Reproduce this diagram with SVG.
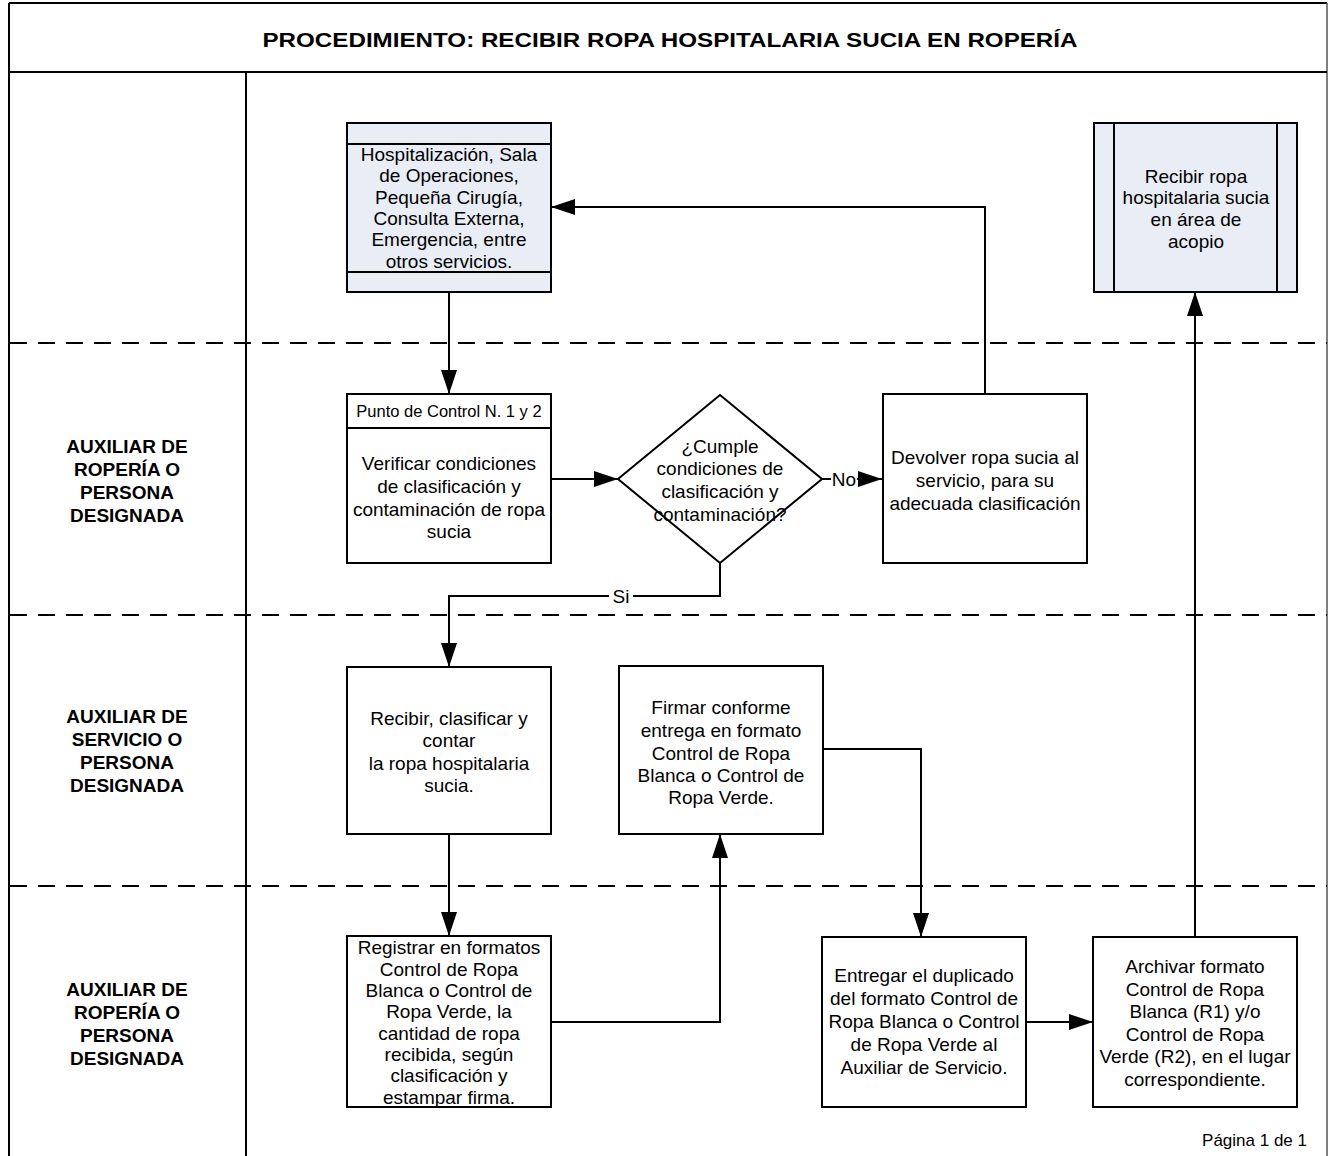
<svg xmlns="http://www.w3.org/2000/svg" width="1330" height="1156" viewBox="0 0 1330 1156">
  <style>
    .frame { fill: none; stroke: #000; stroke-width: 2; }
    .lane { fill: none; stroke: #000; stroke-width: 2; stroke-dasharray: 17 11; }
    .box { fill: #fff; stroke: #000; stroke-width: 2; }
    .tinted { fill: #e9edf5; stroke: #000; stroke-width: 2; }
    .edge { fill: none; stroke: #000; stroke-width: 2; }
    .t { font-family: "Liberation Sans", Arial, sans-serif; font-size: 19px; fill: #000; text-anchor: middle; }
    .small { font-size: 16.5px; }
    .role { font-family: "Liberation Sans", Arial, sans-serif; font-size: 19px; font-weight: bold; fill: #000; text-anchor: middle; }
    .title { font-family: "Liberation Sans", Arial, sans-serif; font-size: 21px; font-weight: bold; fill: #000; text-anchor: middle; }
    .lbl { font-family: "Liberation Sans", Arial, sans-serif; font-size: 19px; fill: #000; text-anchor: middle; }
  </style>
  <defs>
    <marker id="arrow" viewBox="0 0 24 16" refX="24" refY="8" markerWidth="24" markerHeight="16" markerUnits="userSpaceOnUse" orient="auto">
      <path d="M0,0 L24,8 L0,16 Z" fill="#000"/>
    </marker>
  </defs>

  <rect width="1330" height="1156" fill="#fff"/>

  <!-- page frame, title band and lane grid -->
  <g id="frame">
    <line class="frame" x1="9" y1="3" x2="1327" y2="3"/>
    <line class="frame" x1="9" y1="3" x2="9" y2="1156"/>
    <line class="frame" x1="1327" y1="3" x2="1327" y2="1156" style="stroke:#555;stroke-width:1.5"/>
    <line class="frame" x1="9" y1="72" x2="1327" y2="72"/>
    <line class="frame" x1="246" y1="72" x2="246" y2="1156"/>
    <line class="lane" x1="10" y1="343" x2="1327" y2="343"/>
    <line class="lane" x1="10" y1="615" x2="1327" y2="615"/>
    <line class="lane" x1="10" y1="886" x2="1327" y2="886"/>
    <text class="title" x="670" y="47" textLength="815" lengthAdjust="spacingAndGlyphs">PROCEDIMIENTO: RECIBIR ROPA HOSPITALARIA SUCIA EN ROPERÍA</text>
    <text class="lbl" x="1307" y="1146" style="text-anchor:end;font-size:17px">Página 1 de 1</text>
  </g>

  <!-- role labels -->
  <g id="role-roperia-1">
    <text class="role" x="127" y="453">AUXILIAR DE</text>
    <text class="role" x="127" y="476">ROPERÍA O</text>
    <text class="role" x="127" y="499">PERSONA</text>
    <text class="role" x="127" y="522">DESIGNADA</text>
  </g>
  <g id="role-servicio">
    <text class="role" x="127" y="723">AUXILIAR DE</text>
    <text class="role" x="127" y="746">SERVICIO O</text>
    <text class="role" x="127" y="769">PERSONA</text>
    <text class="role" x="127" y="792">DESIGNADA</text>
  </g>
  <g id="role-roperia-2">
    <text class="role" x="127" y="996">AUXILIAR DE</text>
    <text class="role" x="127" y="1019">ROPERÍA O</text>
    <text class="role" x="127" y="1042">PERSONA</text>
    <text class="role" x="127" y="1065">DESIGNADA</text>
  </g>

  <!-- connectors -->
  <g id="connectors">
    <line class="edge" x1="449" y1="292" x2="449" y2="394" marker-end="url(#arrow)"/>
    <line class="edge" x1="551" y1="479" x2="618" y2="479" marker-end="url(#arrow)"/>
    <line class="edge" x1="822" y1="479" x2="882" y2="479" marker-end="url(#arrow)"/>
    <polyline class="edge" points="985,394 985,207 551,207" marker-end="url(#arrow)"/>
    <polyline class="edge" points="720,563 720,596 449,596 449,667" marker-end="url(#arrow)"/>
    <line class="edge" x1="449" y1="834" x2="449" y2="936" marker-end="url(#arrow)"/>
    <polyline class="edge" points="551,1022 720,1022 720,834" marker-end="url(#arrow)"/>
    <polyline class="edge" points="823,749 921,749 921,937" marker-end="url(#arrow)"/>
    <line class="edge" x1="1026" y1="1022" x2="1093" y2="1022" marker-end="url(#arrow)"/>
    <line class="edge" x1="1195" y1="937" x2="1195" y2="292" marker-end="url(#arrow)"/>
    <rect x="831" y="468" width="26" height="22" fill="#fff"/>
    <text class="lbl" x="844" y="486">No</text>
    <rect x="609" y="585" width="24" height="22" fill="#fff"/>
    <text class="lbl" x="621" y="603">Si</text>
  </g>

  <!-- service areas (start) -->
  <g id="servicios">
    <rect class="tinted" x="347" y="123" width="204" height="169"/>
    <line class="edge" x1="347" y1="144" x2="551" y2="144"/>
    <line class="edge" x1="347" y1="272" x2="551" y2="272"/>
    <text class="t" x="449" y="161">Hospitalización, Sala</text>
    <text class="t" x="449" y="182">de Operaciones,</text>
    <text class="t" x="449" y="204">Pequeña Cirugía,</text>
    <text class="t" x="449" y="225">Consulta Externa,</text>
    <text class="t" x="449" y="246">Emergencia, entre</text>
    <text class="t" x="449" y="268">otros servicios.</text>
  </g>

  <!-- next procedure (end) -->
  <g id="recibir-acopio">
    <rect class="tinted" x="1094" y="123" width="203" height="169"/>
    <line class="edge" x1="1114" y1="123" x2="1114" y2="292"/>
    <line class="edge" x1="1277" y1="123" x2="1277" y2="292"/>
    <text class="t" x="1196" y="183">Recibir ropa</text>
    <text class="t" x="1196" y="204">hospitalaria sucia</text>
    <text class="t" x="1196" y="226">en área de</text>
    <text class="t" x="1196" y="248">acopio</text>
  </g>

  <g id="verificar">
    <rect class="box" x="347" y="394" width="204" height="169"/>
    <line class="edge" x1="347" y1="428" x2="551" y2="428"/>
    <text class="t small" x="449" y="417">Punto de Control  N. 1 y 2</text>
    <text class="t" x="449" y="470">Verificar condiciones</text>
    <text class="t" x="449" y="493">de clasificación y</text>
    <text class="t" x="449" y="516">contaminación de ropa</text>
    <text class="t" x="449" y="538">sucia</text>
  </g>

  <g id="cumple">
    <polygon class="box" points="720,395 822,479 720,563 618,479"/>
    <text class="t" x="720" y="453">¿Cumple</text>
    <text class="t" x="720" y="475">condiciones de</text>
    <text class="t" x="720" y="498">clasificación y</text>
    <text class="t" x="720" y="521">contaminación?</text>
  </g>

  <g id="devolver">
    <rect class="box" x="883" y="394" width="204" height="169"/>
    <text class="t" x="985" y="464">Devolver ropa sucia al</text>
    <text class="t" x="985" y="487">servicio, para su</text>
    <text class="t" x="985" y="510">adecuada clasificación</text>
  </g>

  <g id="recibir-clasificar">
    <rect class="box" x="347" y="667" width="204" height="167"/>
    <text class="t" x="449" y="725">Recibir, clasificar y</text>
    <text class="t" x="449" y="747">contar</text>
    <text class="t" x="449" y="770">la ropa hospitalaria</text>
    <text class="t" x="449" y="792">sucia.</text>
  </g>

  <g id="firmar">
    <rect class="box" x="619" y="666" width="204" height="168"/>
    <text class="t" x="721" y="714">Firmar conforme</text>
    <text class="t" x="721" y="737">entrega en formato</text>
    <text class="t" x="721" y="760">Control de Ropa</text>
    <text class="t" x="721" y="782">Blanca o Control de</text>
    <text class="t" x="721" y="804">Ropa Verde.</text>
  </g>

  <g id="registrar">
    <rect class="box" x="347" y="936" width="204" height="171"/>
    <text class="t" x="449" y="954">Registrar en formatos</text>
    <text class="t" x="449" y="976">Control de Ropa</text>
    <text class="t" x="449" y="997">Blanca o Control de</text>
    <text class="t" x="449" y="1018">Ropa Verde, la</text>
    <text class="t" x="449" y="1040">cantidad de ropa</text>
    <text class="t" x="449" y="1061">recibida, según</text>
    <text class="t" x="449" y="1082">clasificación y</text>
    <text class="t" x="449" y="1104">estampar firma.</text>
  </g>

  <g id="entregar">
    <rect class="box" x="822" y="937" width="204" height="170"/>
    <text class="t" x="924" y="982">Entregar el duplicado</text>
    <text class="t" x="924" y="1005">del formato Control de</text>
    <text class="t" x="924" y="1028">Ropa Blanca o Control</text>
    <text class="t" x="924" y="1051">de Ropa Verde al</text>
    <text class="t" x="924" y="1074">Auxiliar de Servicio.</text>
  </g>

  <g id="archivar">
    <rect class="box" x="1093" y="937" width="204" height="170"/>
    <text class="t" x="1195" y="973">Archivar formato</text>
    <text class="t" x="1195" y="996">Control de Ropa</text>
    <text class="t" x="1195" y="1018">Blanca (R1) y/o</text>
    <text class="t" x="1195" y="1041">Control de Ropa</text>
    <text class="t" x="1195" y="1063">Verde (R2), en el lugar</text>
    <text class="t" x="1195" y="1086">correspondiente.</text>
  </g>
</svg>
